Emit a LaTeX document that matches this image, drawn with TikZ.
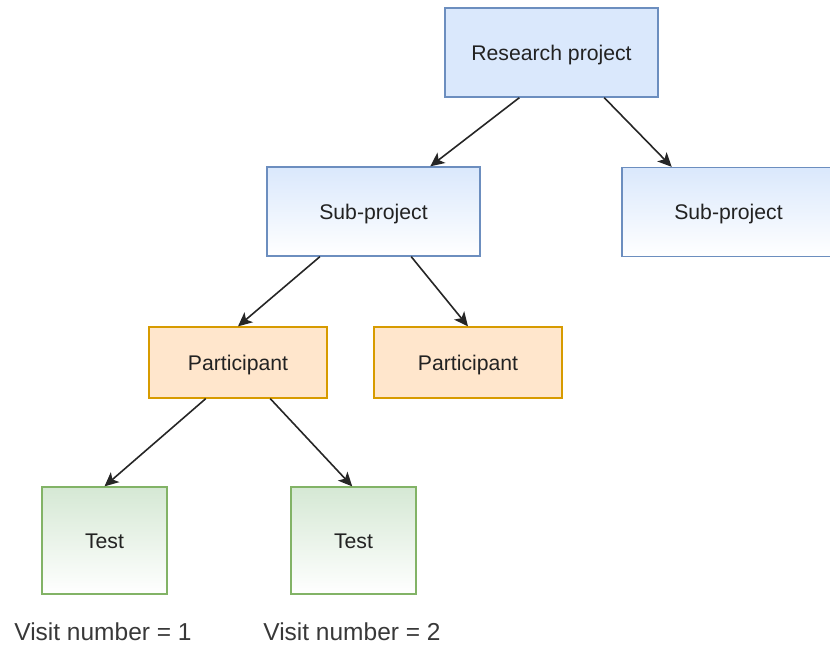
\documentclass[tikz,border=0pt]{standalone}
\usepackage{fontspec}
\setmainfont{Liberation Sans}
\usetikzlibrary{calc,arrows.meta}
\definecolor{bluefill}{HTML}{DAE8FC}
\definecolor{bluedraw}{HTML}{6C8EBF}
\definecolor{orfill}{HTML}{FFE6CC}
\definecolor{ordraw}{HTML}{D79B00}
\definecolor{grfill}{HTML}{D5E8D4}
\definecolor{grdraw}{HTML}{82B366}
\definecolor{txt}{HTML}{222222}
\newcommand{\bxt}[1]{\raisebox{-7.5pt}[0pt][0pt]{#1}}
\tikzset{
  box/.style={rectangle, line width=1.3pt, inner sep=0pt, text=txt, font=\fontsize{21.2}{25}\selectfont},
  bluebox/.style={box, draw=bluedraw, fill=bluefill, minimum width=213pt, minimum height=89pt},
  bluegrad/.style={box, draw=bluedraw, top color=bluefill, bottom color=white, minimum width=213pt, minimum height=89pt},
  orbox/.style={box, draw=ordraw, fill=orfill, minimum height=71pt},
  grbox/.style={box, draw=grdraw, top color=grfill, bottom color=white, minimum width=125pt, minimum height=107pt},
  lbl/.style={text=txt!90, font=\fontsize{24.5}{28}\selectfont, inner sep=0pt},
  arr/.style={-{Stealth[length=14pt,width=13pt,inset=3.5pt]}, line width=1.6pt, black!85}
}
\begin{document}
\begin{tikzpicture}[x=1pt,y=1pt]
\useasboundingbox (0,0) rectangle (830,-646);
\node[bluebox] (rp) at (551.5,-52.5) {\bxt{Research project}};
\node[bluegrad] (sl) at (373.5,-211.5) {\bxt{Sub-project}};
\node[bluegrad] (sr) at (728.5,-212) {\bxt{Sub-project}};
\node[orbox, minimum width=178pt] (pl) at (238,-362.5) {\bxt{Participant}};
\node[orbox, minimum width=188pt] (pr) at (468,-362.5) {\bxt{Participant}};
\node[grbox] (tl) at (104.5,-540.5) {\bxt{Test}};
\node[grbox] (tr) at (353.5,-540.5) {\bxt{Test}};
\node[lbl] (v1) at (103,-632) {Visit number = 1};
\node[lbl] (v2) at (352,-632) {Visit number = 2};
\draw[arr] ($(rp.south west)!0.35!(rp.south east)$) -- ($(sl.north west)!0.765!(sl.north east)$);
\draw[arr] ($(rp.south west)!0.746!(rp.south east)$) -- ($(sr.north west)!0.235!(sr.north east)$);
\draw[arr] ($(sl.south west)!0.25!(sl.south east)$) -- ($(pl.north west)!0.5!(pl.north east)$);
\draw[arr] ($(sl.south west)!0.676!(sl.south east)$) -- ($(pr.north west)!0.5!(pr.north east)$);
\draw[arr] ($(pl.south west)!0.32!(pl.south east)$) -- ($(tl.north west)!0.5!(tl.north east)$);
\draw[arr] ($(pl.south west)!0.68!(pl.south east)$) -- ($(tr.north west)!0.49!(tr.north east)$);
\end{tikzpicture}
\end{document}
